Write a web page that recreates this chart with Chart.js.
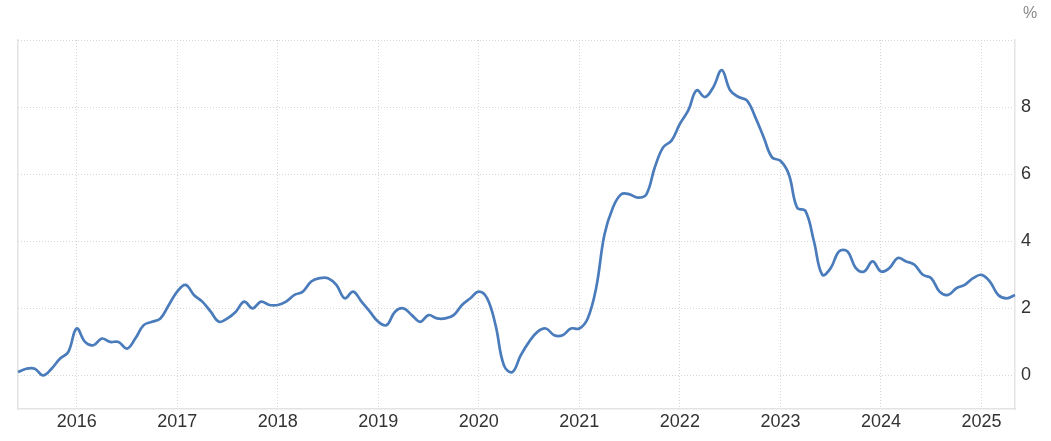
<!DOCTYPE html>
<html>
<head>
<meta charset="utf-8">
<script src="https://cdn.jsdelivr.net/npm/chart.js@4"></script>
<style>
  html, body { margin: 0; padding: 0; background: #fff; }
  #wrap { width: 1051px; height: 441px; }
</style>
</head>
<body>
<div id="wrap"><canvas id="chart"></canvas></div>
<script>
// monthly inflation rate, Jun 2015 .. May 2025
const startYear = 2015;
const startMonth = 6;

const values2015 = [0.1, 0.2, 0.2, 0.0, 0.2, 0.5, 0.7];
const values2016 = [1.4, 1.0, 0.9, 1.1, 1.0, 1.0, 0.8, 1.1, 1.5, 1.6, 1.7, 2.1];
const values2017 = [2.5, 2.7, 2.4, 2.2, 1.9, 1.6, 1.7, 1.9, 2.2, 2.0, 2.2, 2.1];
const values2018 = [2.1, 2.2, 2.4, 2.5, 2.8, 2.9, 2.9, 2.7, 2.3, 2.5, 2.2, 1.9];
const values2019 = [1.6, 1.5, 1.9, 2.0, 1.8, 1.6, 1.8, 1.7, 1.7, 1.8, 2.1, 2.3];
const values2020 = [2.5, 2.3, 1.5, 0.3, 0.1, 0.6, 1.0, 1.3, 1.4, 1.2, 1.2, 1.4];
const values2021 = [1.4, 1.7, 2.6, 4.2, 5.0, 5.4, 5.4, 5.3, 5.4, 6.2, 6.8, 7.0];
const values2022 = [7.5, 7.9, 8.5, 8.3, 8.6, 9.1, 8.5, 8.3, 8.2, 7.7, 7.1, 6.5];
const values2023 = [6.4, 6.0, 5.0, 4.9, 4.0, 3.0, 3.2, 3.7, 3.7, 3.2, 3.1, 3.4];
const values2024 = [3.1, 3.2, 3.5, 3.4, 3.3, 3.0, 2.9, 2.5, 2.4, 2.6, 2.7, 2.9];
const values2025 = [3.0, 2.8, 2.4, 2.3, 2.4];

const yTicks = [0, 2, 4, 6, 8, 10];

const values = [].concat(values2015, values2016, values2017, values2018, values2019,
  values2020, values2021, values2022, values2023, values2024, values2025);

const labels = values.map((v, i) => {
  const m = startMonth - 1 + i;
  const y = startYear + Math.floor(m / 12);
  const mm = (m % 12) + 1;
  return y + '-' + (mm < 10 ? '0' + mm : mm);
});

const gridColor = '#d6d6d6';
const borderColor = '#e3e3e3';
const textColor = '#333333';
const fontFamily = '"Liberation Sans", Arial, sans-serif';

const percentSign = {
  id: 'percentSign',
  afterDraw(chart) {
    const ctx = chart.ctx;
    ctx.save();
    ctx.font = '16px ' + fontFamily;
    ctx.fillStyle = '#888888';
    ctx.textAlign = 'center';
    ctx.textBaseline = 'middle';
    ctx.fillText('%', 1030, 14);
    ctx.restore();
  }
};

new Chart(document.getElementById('chart'), {
  type: 'line',
  data: {
    labels: labels,
    datasets: [{
      data: values,
      borderColor: '#4a7cbc',
      borderWidth: 2.7,
      pointRadius: 0,
      tension: 0.4,
      fill: false
    }]
  },
  options: {
    responsive: true,
    maintainAspectRatio: false,
    animation: false,
    layout: { padding: { top: 40, left: 0, right: 0, bottom: 0 } },
    plugins: {
      legend: { display: false },
      tooltip: { enabled: false }
    },
    scales: {
      x: {
        offset: false,
        grid: {
          drawTicks: false,
          color: (c) => (labels[c.index] && labels[c.index].endsWith('-01')) ? gridColor : 'transparent'
        },
        border: { display: true, color: borderColor, width: 1.5, dash: [1, 2] },
        ticks: {
          autoSkip: false,
          maxRotation: 0,
          minRotation: 0,
          padding: 2,
          color: textColor,
          font: { family: fontFamily, size: 18 },
          callback: (v, i) => labels[i].endsWith('-01') ? labels[i].slice(0, 4) : ''
        },
        afterFit: (axis) => { axis.height = 32; }
      },
      yLeft: {
        position: 'left',
        min: -1,
        max: 10,
        grid: { display: false },
        border: { display: true, color: borderColor, width: 1.5 },
        ticks: { display: false },
        afterFit: (axis) => { axis.width = 18; }
      },
      y: {
        position: 'right',
        min: -1,
        max: 10,
        afterBuildTicks: (axis) => { axis.ticks = yTicks.map(v => ({ value: v })); },
        grid: { drawTicks: false, color: gridColor },
        border: { display: true, color: borderColor, width: 1.5, dash: [1, 2] },
        ticks: {
          padding: 6,
          color: textColor,
          font: { family: fontFamily, size: 18 },
          callback: (v) => v === 10 ? '' : v
        },
        afterFit: (axis) => { axis.width = 36; }
      }
    }
  },
  plugins: [percentSign]
});
</script>
</body>
</html>
